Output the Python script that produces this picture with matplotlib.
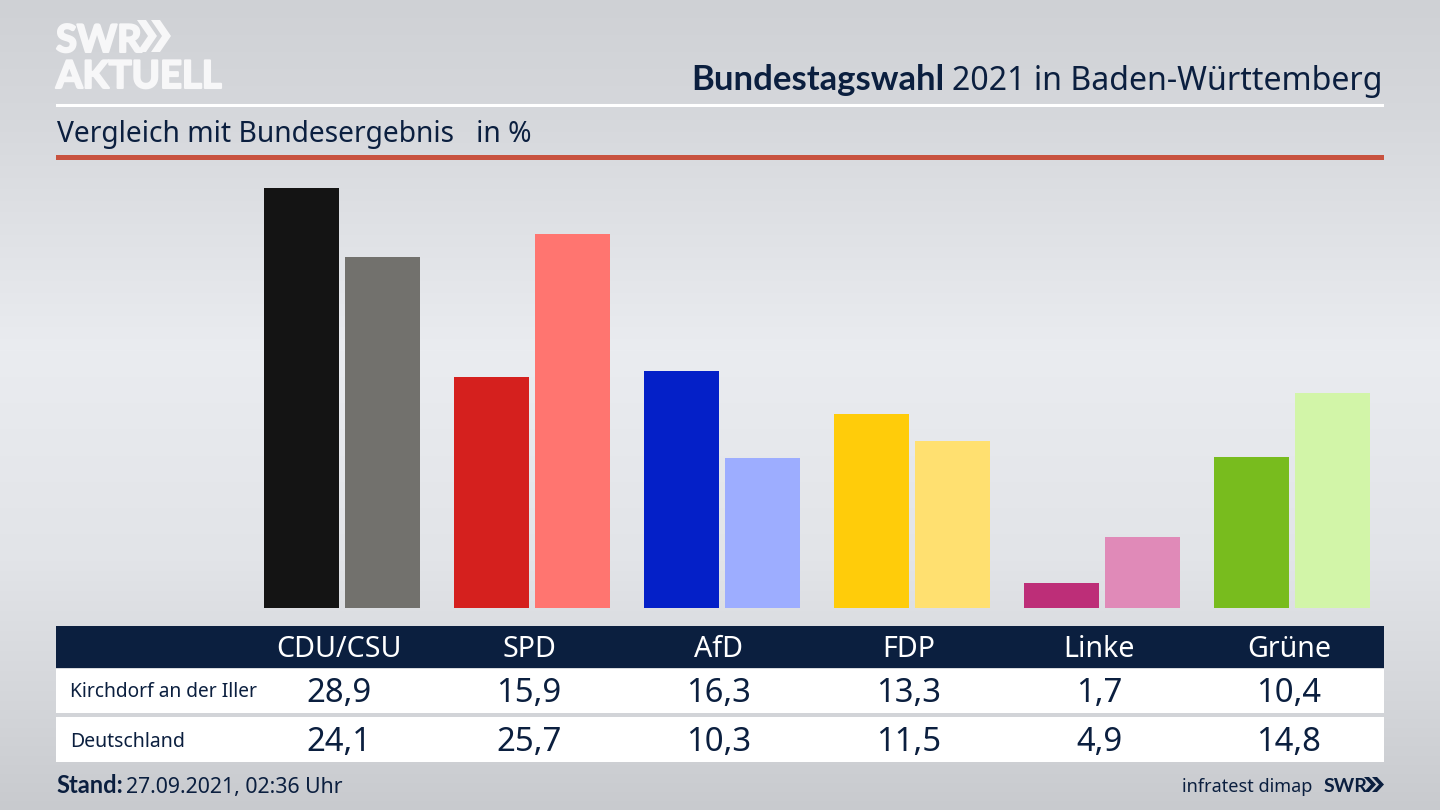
import matplotlib
matplotlib.use('Agg')
import matplotlib.pyplot as plt
import matplotlib.patheffects as pe
from matplotlib.patches import Rectangle, Polygon
import numpy as np

plt.rcParams['font.family'] = ['Noto Sans', 'DejaVu Sans']

parties = ['CDU/CSU', 'SPD', 'AfD', 'FDP', 'Linke', 'Grüne']
kirchdorf = [28.9, 15.9, 16.3, 13.3, 1.7, 10.4]
deutschland = [24.1, 25.7, 10.3, 11.5, 4.9, 14.8]
row_names = ['Kirchdorf an der Iller', 'Deutschland']
colors_local = ['#141414', '#d5201e', '#0420c8', '#ffcc0a', '#bd2e78', '#78bc1e']
colors_national = ['#72716d', '#ff7570', '#9dadff', '#ffe070', '#e08ab8', '#d2f5a8']

navy = '#0b1f3f'
W, H = 1440, 810

fig = plt.figure(figsize=(14.4, 8.1), dpi=100)

# background and layout layer, in pixels
bg = fig.add_axes([0, 0, 1, 1])
bg.set_xlim(0, W)
bg.set_ylim(H, 0)
bg.axis('off')
grad_y = np.array([0, 120, 350, 560, 700, 810])
grad_v = np.array([207, 214, 234, 226, 212, 200])
grad = np.interp(np.arange(H), grad_y, grad_v)
rgb = np.stack([grad, grad + 2, grad + 6], axis=1)[:, None, :] / 255
bg.imshow(np.clip(rgb, 0, 1), extent=[0, W, H, 0], aspect='auto', zorder=0)

# bars
px_per_unit = 420.5 / 28.9
ax = fig.add_axes([0, (H - 608) / H, 1, 500 / H])
ax.patch.set_alpha(0)
ax.set_xlim(-342 / 190, (W - 342) / 190)
ax.set_ylim(0, 500 / px_per_unit)
ax.axis('off')
x = np.arange(len(parties))
ax.bar(x - 0.213, kirchdorf, width=0.395, color=colors_local)
ax.bar(x + 0.213, deutschland, width=0.395, color=colors_national)

# rules
bg.add_patch(Rectangle((56, 104), 1328, 3, color='white', lw=0, zorder=2))
bg.add_patch(Rectangle((56, 155), 1328, 5, color='#c8523f', lw=0, zorder=2))


def chevrons(x0, y0, y1, c, th, step, color):
    mid = (y0 + y1) / 2
    for dx in (0, step):
        bg.add_patch(Polygon([(x0 + dx, y0), (x0 + dx + th, y0), (x0 + dx + c, mid),
                              (x0 + dx + th, y1), (x0 + dx, y1), (x0 + dx + c - th, mid)],
                             color=color, lw=0, zorder=3))


# logo
thick = [pe.withStroke(linewidth=1.5, foreground='#f7f7f8')]
bg.text(56, 52, 'SWR', color='#f7f7f8', fontsize=27.5, fontweight='bold', family='Lato',
        va='baseline', zorder=3, path_effects=thick)
bg.text(56, 88, 'AKTUELL', color='#f7f7f8', fontsize=27.5, fontweight='bold', family='Lato',
        va='baseline', zorder=3, path_effects=thick)
chevrons(137, 20, 52, 20, 9, 14, '#f7f7f8')

# headings
bg.text(1383, 90, '2021 in Baden-Württemberg', color=navy, fontsize=23.1, ha='right', va='baseline', zorder=3)
bg.text(944, 90, 'Bundestagswahl', color=navy, fontsize=24.9, fontweight='bold', family='Lato',
        ha='right', va='baseline', zorder=3)
bg.text(57, 142, 'Vergleich mit Bundesergebnis   in %', color=navy, fontsize=20.3, va='baseline', zorder=3)

# table
bg.add_patch(Rectangle((56, 626), 1328, 42, color=navy, lw=0, zorder=2))
bg.add_patch(Rectangle((56, 669), 1328, 44, color='white', lw=0, zorder=2))
bg.add_patch(Rectangle((56, 717), 1328, 45, color='white', lw=0, zorder=2))
col_x = 339 + 190 * x
for cx, name, a, b in zip(col_x, parties, kirchdorf, deutschland):
    bg.text(cx, 657, name, color='white', fontsize=20.6, ha='center', va='baseline', zorder=3)
    bg.text(cx, 702, f'{a:.1f}'.replace('.', ','), color=navy, fontsize=23.6, ha='center', va='baseline', zorder=3)
    bg.text(cx, 751, f'{b:.1f}'.replace('.', ','), color=navy, fontsize=23.6, ha='center', va='baseline', zorder=3)
bg.text(70, 697, row_names[0], color=navy, fontsize=13.8, va='baseline', zorder=3)
bg.text(70, 747, row_names[1], color=navy, fontsize=14, va='baseline', zorder=3)

# footer
bg.text(56, 793, 'Stand:', color=navy, fontsize=17, fontweight='bold', family='Lato', va='baseline', zorder=3)
bg.text(126, 793, '27.09.2021, 02:36 Uhr', color=navy, fontsize=15.3, va='baseline', zorder=3)
bg.text(1312, 792, 'infratest dimap', color=navy, fontsize=13, ha='right', va='baseline', zorder=3)
bg.text(1324, 792, 'SWR', color=navy, fontsize=14, fontweight='bold', family='Lato', va='baseline', zorder=3)
chevrons(1364, 777, 792, 12, 5, 8, navy)

fig.savefig('out.png', dpi=100)
